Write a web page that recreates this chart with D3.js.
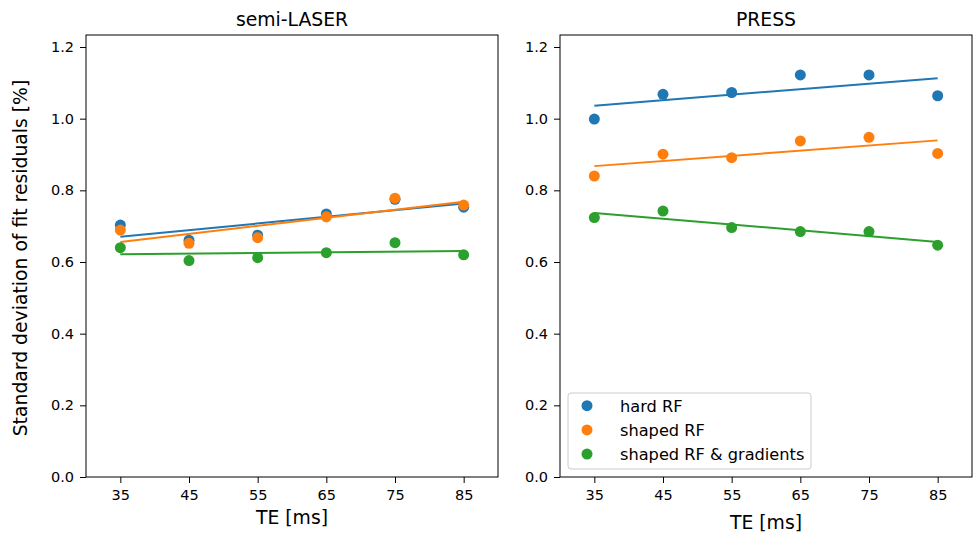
<!DOCTYPE html>
<html><head><meta charset="utf-8">
<script src="https://cdn.jsdelivr.net/npm/d3@7"></script>
<style>body{margin:0;background:#fff}svg{display:block}text{font-family:"DejaVu Sans",sans-serif;fill:#000}</style>
</head><body><svg id="c" width="973" height="534"></svg>
<script>
const te = [35, 45, 55, 65, 75, 85];
const xTicks = [35, 45, 55, 65, 75, 85];
const yTicks = [0.0, 0.2, 0.4, 0.6, 0.8, 1.0, 1.2];
const seriesNames = ["hard RF", "shaped RF", "shaped RF & gradients"];
const colors = ["#1f77b4", "#ff7f0e", "#2ca02c"];
const slaserHard = [0.703, 0.661, 0.675, 0.734, 0.775, 0.753];
const slaserShaped = [0.689, 0.652, 0.668, 0.726, 0.778, 0.759];
const slaserGrad = [0.640, 0.604, 0.612, 0.626, 0.654, 0.620];
const pressHard = [0.999, 1.068, 1.073, 1.122, 1.122, 1.064];
const pressShaped = [0.840, 0.901, 0.891, 0.938, 0.948, 0.903];
const pressGrad = [0.724, 0.742, 0.696, 0.685, 0.685, 0.647];

const panels = [
  {title: "semi-LASER", left: 86, series: [slaserHard, slaserShaped, slaserGrad], legend: false, xlabY: 524},
  {title: "PRESS", left: 560, series: [pressHard, pressShaped, pressGrad], legend: true, xlabY: 529}
];
const W = 412, plotTop = 35, plotBottom = 477;
const svg = d3.select("#c");

function fit(xs, ys) {
  const mx = d3.mean(xs), my = d3.mean(ys);
  const num = d3.sum(xs, (x, i) => (x - mx) * (ys[i] - my));
  const den = d3.sum(xs, x => (x - mx) ** 2);
  const b = num / den;
  return x => my + b * (x - mx);
}

panels.forEach(p => {
  const x = d3.scaleLinear().domain([30, 90]).range([p.left, p.left + W]);
  const y = d3.scaleLinear().domain([0, 1.2335]).range([plotBottom, plotTop]);
  const g = svg.append("g");
  const xa = g.append("g").attr("transform", `translate(0,${plotBottom})`)
    .call(d3.axisBottom(x).tickValues(xTicks).tickSize(6).tickPadding(5).tickFormat(d3.format("d")));
  const ya = g.append("g").attr("transform", `translate(${p.left},0)`)
    .call(d3.axisLeft(y).tickValues(yTicks).tickSize(6).tickPadding(6).tickFormat(d3.format(".1f")));
  [xa, ya].forEach(a => {
    a.attr("font-size", null).attr("font-family", null);
    a.select(".domain").remove();
    a.selectAll("text").style("font-size", "14.5px").style("fill", "#000");
    a.selectAll("line").attr("stroke", "#000").attr("stroke-width", 1);
  });
  xa.selectAll("text").attr("dy", null).attr("y", 23);
  g.append("rect").attr("x", p.left).attr("y", plotTop).attr("width", W).attr("height", plotBottom - plotTop)
    .attr("fill", "none").attr("stroke", "#000").attr("stroke-width", 1);

  p.series.forEach((s, i) => {
    const f = fit(te, s);
    g.append("line").attr("x1", x(35)).attr("x2", x(85)).attr("y1", y(f(35))).attr("y2", y(f(85)))
      .attr("stroke", colors[i]).attr("stroke-width", 2);
  });
  p.series.forEach((s, i) => {
    g.selectAll(null).data(s).enter().append("circle")
      .attr("cx", (d, j) => x(te[j])).attr("cy", d => y(d)).attr("r", 5.5).attr("fill", colors[i]);
  });

  g.append("text").attr("x", p.left + W / 2).attr("y", 26).attr("text-anchor", "middle")
    .style("font-size", "18.8px").text(p.title);
  g.append("text").attr("x", p.left + W / 2).attr("y", p.xlabY).attr("text-anchor", "middle")
    .style("font-size", "18.8px").text("TE [ms]");

  if (p.legend) {
    const lx = p.left + 8, ly = 393;
    g.append("rect").attr("x", lx).attr("y", ly).attr("width", 243).attr("height", 76).attr("rx", 3)
      .attr("fill", "#fff").attr("fill-opacity", 0.8).attr("stroke", "#ccc").attr("stroke-width", 1);
    seriesNames.forEach((n, i) => {
      const cy = ly + 12.7 + i * 24.2;
      g.append("circle").attr("cx", lx + 19).attr("cy", cy).attr("r", 5.5).attr("fill", colors[i]);
      g.append("text").attr("x", lx + 52).attr("y", cy + 6).style("font-size", "16.2px").text(n);
    });
  }
});

svg.append("text").attr("transform", `translate(27,${(plotTop + plotBottom) / 2 + 2}) rotate(-90)`)
  .attr("text-anchor", "middle").style("font-size", "18.8px").text("Standard deviation of fit residuals [%]");
</script></body></html>
